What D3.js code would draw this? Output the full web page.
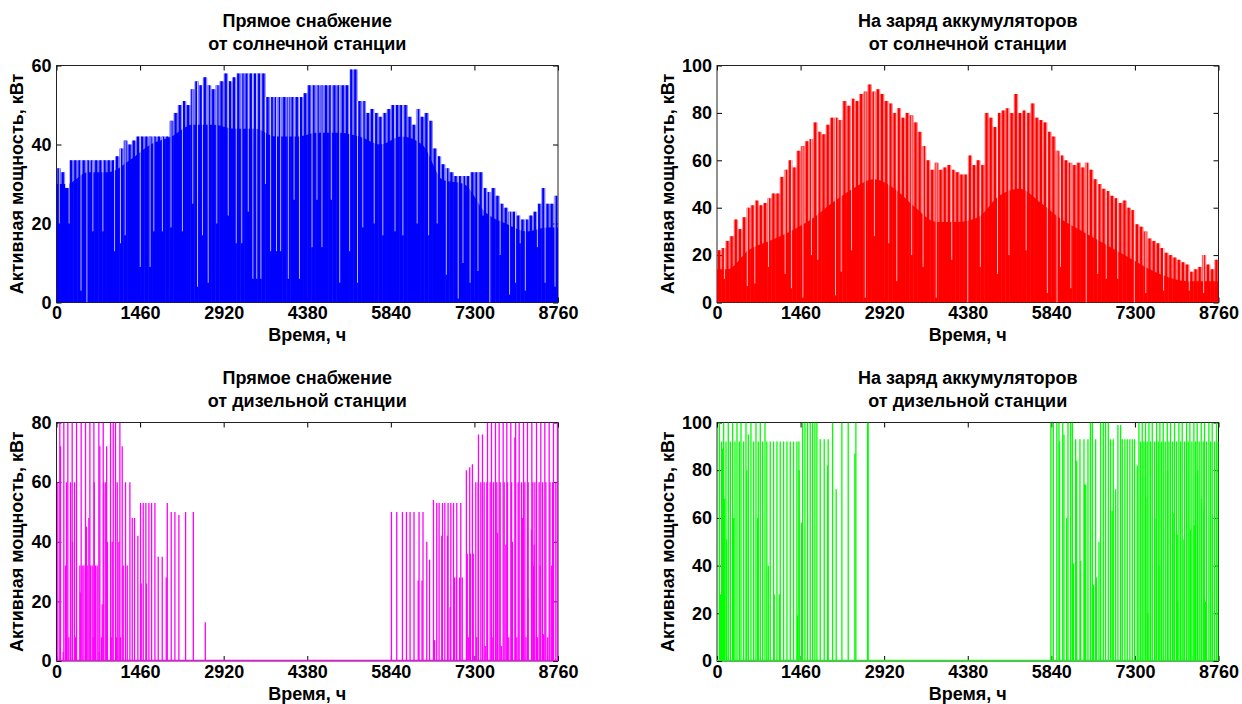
<!DOCTYPE html>
<html>
<head>
<meta charset="utf-8">
<script src="https://d3js.org/d3.v7.min.js"></script>
<style>
  body { margin: 0; background: #fff; }
  svg text { font-family: "Liberation Sans", Arial, sans-serif; font-weight: bold; fill: #000; }
</style>
</head>
<body>
<svg id="chart" width="1242" height="704"></svg>
<script>
// Hourly year, axis ticks
var HOURS = 8760;
var xTicks = [0, 1460, 2920, 4380, 5840, 7300, 8760];

// Solar charts are read as an upper envelope per 73 h bin
// and a solid (dark) band per 365 h bin
var binHours = 73;
var baseHours = 365;

// Прямое снабжение от солнечной станции, кВт
var solarDirectTop = [34, 33, 29, 36, 36, 36, 36, 36, 36, 36,
  36, 36, 36, 36, 37, 39, 41, 40, 41, 42,
  42, 42, 42, 42, 42, 42, 42, 46, 48, 50,
  51, 50, 54, 56, 55, 57, 55, 54, 55, 56,
  58, 56, 57, 58, 58, 58, 58, 58, 58, 58,
  52, 52, 52, 52, 52, 52, 52, 52, 52, 53,
  55, 55, 55, 55, 55, 55, 55, 55, 55, 55,
  59, 59, 51, 51, 48, 49, 48, 47, 48, 49,
  50, 50, 50, 50, 47, 45, 49, 47, 48, 46,
  39, 37, 35, 34, 33, 32, 32, 32, 32, 33,
  33, 33, 29, 28, 29, 27, 25, 24, 23, 23,
  22, 21, 21, 22, 23, 25, 29, 25, 25, 27];
var solarDirectBase = [30, 33, 33, 36, 40, 42, 45, 45, 44, 44, 42, 42,
  43, 43, 42, 40, 42, 40, 31, 30, 23, 20, 18, 19];
var solarDirectDipHours = [50, 220, 428, 531, 635, 810, 1014, 1118, 1200, 1463, 1635, 1700, 1850,
  2000, 2200, 2380, 2463, 2550, 2650, 2800, 3000, 3140, 3236, 3350, 3430, 3498, 3570, 3650,
  3740, 3843, 3915, 4050, 4150, 4244, 4464, 4550, 4637, 4800, 4947, 5120, 5258, 5350, 5550,
  5700, 5913, 6050, 6300, 6500, 6650, 6810, 7017, 7100, 7224, 7362, 7450, 7569, 7750, 7914,
  8018, 8100, 8190, 8400, 8535, 8708];
var solarDirectDipValues = [20, 20, 3, 0, 18, 18, 13, 15, 17, 9, 9, 18, 18,
  19, 18, 25, 4, 17, 5, 20, 22, 15, 15, 23, 6, 6, 6, 30,
  13, 13, 13, 6, 26, 6, 14, 26, 14, 26, 5, 13, 5, 19, 20,
  17, 18, 17, 20, 17, 20, 7, 1, 10, 5, 8, 22, 0, 12, 2,
  5, 15, 3, 14, 5, 4];

// На заряд аккумуляторов от солнечной станции, кВт
var solarChargeTop = [22, 23, 26, 28, 35, 31, 36, 40, 41, 43,
  41, 42, 44, 46, 46, 53, 56, 60, 57, 64,
  66, 68, 69, 76, 72, 71, 75, 78, 78, 77,
  85, 83, 86, 85, 88, 89, 92, 89, 90, 88,
  85, 84, 80, 82, 78, 80, 79, 76, 72, 66,
  60, 56, 59, 56, 57, 58, 56, 55, 54, 54,
  62, 58, 60, 58, 80, 78, 74, 80, 81, 82,
  80, 88, 80, 81, 80, 84, 78, 77, 76, 72,
  70, 64, 62, 60, 59, 58, 59, 57, 59, 56,
  52, 50, 48, 47, 45, 44, 42, 43, 40, 39,
  33, 32, 30, 27, 26, 25, 23, 21, 20, 19,
  18, 17, 16, 13, 14, 15, 20, 16, 14, 18];
var solarChargeBase = [14, 22, 26, 30, 35, 42, 48, 52, 48, 40, 34, 34,
  36, 45, 48, 42, 35, 30, 25, 20, 15, 11, 9, 9];
var solarChargeDipHours = [130, 530, 660, 900, 1190, 1300, 1500, 1650, 1760, 2070, 2170, 2350,
  2590, 2750, 3000, 3140, 3400, 3600, 3830, 4100, 4380, 4600, 4900, 5100, 5400, 5770, 5940,
  6000, 6180, 6450, 6650, 6800, 7000, 7290, 7490, 7800, 8250, 8500];
var solarChargeDipValues = [10, 7, 8, 15, 12, 6, 2, 20, 18, 3, 13, 22,
  2, 28, 25, 9, 20, 15, 2, 18, 0, 15, 12, 20, 22, 4, 0,
  15, 6, 0, 12, 10, 10, 0, 4, 5, 5, 4];

// Прямое снабжение от дизельной станции, кВт (individual daily spikes)
var dieselDirectHours = [23, 58, 70, 117, 128, 157, 175, 198, 215, 245, 274, 280, 315, 332, 350,
  408, 415, 431, 449, 478, 507, 524, 536, 565, 583, 594, 624, 641, 653, 660, 682, 711, 740,
  745, 757, 787, 799, 816, 827, 860, 876, 890, 944, 956, 973, 991, 1031, 1049, 1061, 1090,
  1107, 1119, 1148, 1166, 1206, 1236, 1282, 1323, 1363, 1421, 1468, 1480, 1515, 1561, 1573,
  1614, 1661, 1719, 1777, 1847, 1917, 1935, 2004, 2068, 2138, 2255, 2390, 2599,
  5850, 5943, 6043, 6113, 6176, 6245, 6318, 6333, 6385, 6402, 6468, 6517, 6585, 6605, 6642,
  6683, 6730, 6742, 6783, 6830, 6840, 6877, 6888, 6935, 6950, 6983, 6992, 7041, 7062, 7088,
  7160, 7175, 7200, 7218, 7230, 7265, 7280, 7324, 7340, 7365, 7371, 7412, 7441, 7470, 7490,
  7517, 7529, 7575, 7598, 7610, 7633, 7668, 7691, 7703, 7732, 7750, 7770, 7802, 7820, 7849,
  7866, 7878, 7900, 7936, 7950, 7965, 8006, 8020, 8040, 8064, 8082, 8123, 8140, 8158, 8181,
  8200, 8227, 8235, 8239, 8297, 8303, 8320, 8332, 8344, 8356, 8385, 8400, 8431, 8449, 8460,
  8490, 8507, 8530, 8548, 8580, 8606, 8620, 8650, 8664, 8670, 8681, 8722, 8751];
var dieselDirectValues = [60, 80, 72, 3, 80, 32, 60, 80, 8, 60, 80, 40, 60, 8, 80,
  32, 23, 80, 32, 32, 80, 45, 32, 48, 80, 32, 32, 8, 80, 60, 32, 32, 80,
  3, 72, 8, 19, 80, 60, 60, 72, 40, 80, 8, 40, 80, 80, 8, 60, 40,
  80, 8, 72, 32, 60, 32, 60, 48, 48, 42, 53, 26, 53, 53, 26,
  53, 53, 53, 35, 35, 28, 53, 50, 50, 49, 50, 50, 13,
  50, 50, 50, 50, 50, 50, 27, 50, 27, 50, 40, 34, 54, 7, 53,
  53, 42, 53, 53, 42, 53, 18, 53, 53, 28, 28, 53, 28, 53, 28,
  64, 36, 8, 65, 36, 66, 36, 60, 8, 60, 76, 60, 76, 60, 5,
  60, 80, 60, 80, 8, 60, 80, 60, 43, 80, 60, 5, 80, 60, 39,
  80, 60, 8, 80, 60, 40, 75, 80, 8, 60, 80, 60, 48, 80, 60,
  8, 80, 21, 60, 44, 80, 60, 32, 39, 60, 80, 8, 60, 32, 80,
  60, 9, 80, 60, 8, 80, 60, 32, 60, 8, 80, 60, 80];

// На заряд аккумуляторов от дизельной станции, кВт
var dieselChargeHours = [41, 64, 81, 99, 116, 134, 157, 169, 197, 233, 273, 291, 314, 349, 390,
  419, 465, 506, 520, 547, 593, 640, 681, 710, 721, 756, 797, 838, 870, 896, 930, 989, 1000,
  1047, 1088, 1105, 1164, 1222, 1280, 1338, 1396, 1405, 1431, 1436, 1478, 1495, 1536, 1582,
  1628, 1670, 1710, 1745, 1803, 1873, 1931, 1942, 2019, 2082, 2181, 2292, 2408, 2426, 2630, 2640,
  5832, 5875, 5936, 5973, 5984, 6039, 6061, 6108, 6131, 6178, 6207, 6226, 6265, 6283, 6340,
  6352, 6410, 6421, 6440, 6480, 6523, 6556, 6578, 6614, 6630, 6672, 6701, 6748, 6788, 6835,
  6875, 6903, 6922, 6963, 7003, 7050, 7079, 7125, 7166, 7212, 7254, 7294, 7341, 7370, 7399,
  7428, 7457, 7486, 7490, 7515, 7527, 7545, 7574, 7603, 7644, 7650, 7678, 7708, 7719, 7736,
  7766, 7795, 7830, 7865, 7870, 7894, 7923, 7958, 7981, 7993, 8028, 8039, 8045, 8068, 8098,
  8126, 8155, 8167, 8202, 8231, 8260, 8271, 8295, 8330, 8336, 8359, 8388, 8395, 8423, 8458,
  8462, 8493, 8504, 8516, 8534, 8551, 8592, 8621, 8650, 8655, 8691, 8726, 8752];
var dieselChargeValues = [100, 28, 92, 89, 100, 68, 92, 51, 100, 92, 100, 60, 92, 100, 92,
  100, 92, 100, 80, 95, 100, 92, 100, 60, 92, 100, 92, 100, 92, 40, 92, 92, 28,
  92, 28, 92, 92, 92, 92, 92, 92, 19, 92, 80, 58, 100, 100, 100,
  100, 100, 100, 100, 93, 93, 82, 93, 100, 72, 100, 100, 87, 100, 100, 100,
  100, 100, 100, 100, 92, 100, 95, 60, 100, 100, 100, 41, 93, 84, 93,
  42, 93, 74, 74, 93, 100, 100, 32, 93, 35, 50, 100, 100, 100, 100,
  93, 63, 93, 72, 99, 99, 93, 93, 93, 93, 93, 93, 82, 100, 92,
  100, 92, 100, 68, 92, 20, 100, 92, 100, 92, 60, 100, 92, 40, 100,
  92, 100, 92, 100, 80, 92, 100, 92, 62, 100, 92, 53, 25, 100, 92,
  100, 51, 92, 100, 92, 100, 55, 92, 100, 57, 92, 100, 80, 92, 100,
  68, 92, 63, 100, 25, 92, 100, 92, 100, 61, 92, 100, 92];

var plotW = 501.5;
var fontSize = 18;
var svg = d3.select("#chart");

var panels = [
  {id: 1, x0: 56.5, y0: 65.5, h: 237, yMax: 60, yTicks: [0, 20, 40, 60], labelX: -39.5,
    title: ["Прямое снабжение", "от солнечной станции"], color: "#0000ff", kind: "solar",
    top: solarDirectTop, base: solarDirectBase, dipH: solarDirectDipHours, dipV: solarDirectDipValues},
  {id: 2, x0: 717, y0: 65.5, h: 237, yMax: 100, yTicks: [0, 20, 40, 60, 80, 100], labelX: -49,
    title: ["На заряд аккумуляторов", "от солнечной станции"], color: "#ff0000", kind: "solar",
    top: solarChargeTop, base: solarChargeBase, dipH: solarChargeDipHours, dipV: solarChargeDipValues},
  {id: 3, x0: 56.5, y0: 422.5, h: 238.5, yMax: 80, yTicks: [0, 20, 40, 60, 80], labelX: -39.5,
    title: ["Прямое снабжение", "от дизельной станции"], color: "#ff00ff", kind: "diesel",
    hours: dieselDirectHours, values: dieselDirectValues},
  {id: 4, x0: 717, y0: 422.5, h: 238.5, yMax: 100, yTicks: [0, 20, 40, 60, 80, 100], labelX: -49,
    title: ["На заряд аккумуляторов", "от дизельной станции"], color: "#00ff00", kind: "diesel",
    hours: dieselChargeHours, values: dieselChargeValues}
];

panels.forEach(drawPanel);

function styleAxis(sel) {
  sel.select(".domain").remove();
  sel.attr("font-size", fontSize).attr("font-family", null);
  sel.selectAll(".tick line").attr("stroke", "#000");
}

function drawPanel(p) {
  var g = svg.append("g").attr("transform", "translate(" + p.x0 + "," + p.y0 + ")");
  var x = d3.scaleLinear().domain([0, HOURS]).range([0, plotW]);
  var y = d3.scaleLinear().domain([0, p.yMax]).range([p.h, 0]);

  // Box ticks, all pointing inward
  g.append("g").attr("transform", "translate(0," + p.h + ")")
    .call(d3.axisBottom(x).tickValues(xTicks).tickSizeInner(-5).tickSizeOuter(0)
      .tickPadding(4).tickFormat(d3.format("d")))
    .call(styleAxis);
  g.append("g")
    .call(d3.axisTop(x).tickValues(xTicks).tickSizeInner(-5).tickSizeOuter(0).tickFormat(""))
    .call(styleAxis);
  g.append("g")
    .call(d3.axisLeft(y).tickValues(p.yTicks).tickSizeInner(-5).tickSizeOuter(0).tickPadding(5))
    .call(styleAxis);
  g.append("g").attr("transform", "translate(" + plotW + ",0)")
    .call(d3.axisRight(y).tickValues(p.yTicks).tickSizeInner(-5).tickSizeOuter(0).tickFormat(""))
    .call(styleAxis);

  g.append("rect").attr("width", plotW).attr("height", p.h)
    .attr("fill", "none").attr("stroke", "#222").attr("stroke-width", 1);

  g.append("clipPath").attr("id", "clip" + p.id)
    .append("rect").attr("width", plotW).attr("height", p.h);
  var layer = g.append("g").attr("clip-path", "url(#clip" + p.id + ")");

  if (p.kind === "solar") drawSolar(g, layer, x, y, p);
  else drawDiesel(layer, x, y, p);

  // Titles and labels
  g.append("text").attr("x", plotW / 2).attr("y", -38.5)
    .attr("text-anchor", "middle").attr("font-size", fontSize).text(p.title[0]);
  g.append("text").attr("x", plotW / 2).attr("y", -16)
    .attr("text-anchor", "middle").attr("font-size", fontSize).text(p.title[1]);
  g.append("text").attr("x", plotW / 2).attr("y", p.h + 38.5)
    .attr("text-anchor", "middle").attr("font-size", fontSize).text("Время, ч");
  g.append("text")
    .attr("transform", "translate(" + p.labelX + "," + (p.h / 2) + ") rotate(-90)")
    .attr("text-anchor", "middle").attr("dy", "0.35em").attr("font-size", fontSize)
    .text("Активная мощность, кВт");
}

function drawSolar(g, layer, x, y, p) {
  var bins = p.top.map(function(v, i) {
    return {h0: i * binHours, h1: (i + 1) * binHours, v: v};
  });

  // lighter area up to the daily peaks
  layer.selectAll("rect.fringe").data(bins).enter().append("rect")
    .attr("class", "fringe")
    .attr("x", function(d) { return x(d.h0); })
    .attr("width", function(d) { return x(d.h1) - x(d.h0) + 0.3; })
    .attr("y", function(d) { return y(d.v); })
    .attr("height", function(d) { return y(0) - y(d.v); })
    .attr("fill", p.color).attr("fill-opacity", 0.47);

  // solid band, kept under the envelope
  var envId = "env" + p.id;
  g.append("clipPath").attr("id", envId).selectAll("rect").data(bins).enter().append("rect")
    .attr("x", function(d) { return x(d.h0); })
    .attr("width", function(d) { return x(d.h1) - x(d.h0) + 0.3; })
    .attr("y", function(d) { return y(d.v); })
    .attr("height", function(d) { return y(0) - y(d.v); });

  var basePts = p.base.map(function(v, j) { return [(j + 0.5) * baseHours, v]; });
  basePts.unshift([0, p.base[0]]);
  basePts.push([HOURS, p.base[p.base.length - 1]]);
  var band = d3.area()
    .x(function(d) { return x(d[0]); })
    .y0(y(0))
    .y1(function(d) { return y(d[1]); })
    .curve(d3.curveMonotoneX);
  layer.append("g").attr("clip-path", "url(#" + envId + ")")
    .append("path").datum(basePts).attr("d", band).attr("fill", p.color);

  // peak strokes
  layer.selectAll("line.peak").data(bins).enter().append("line")
    .attr("class", "peak")
    .attr("x1", function(d) { return x((d.h0 + d.h1) / 2); })
    .attr("x2", function(d) { return x((d.h0 + d.h1) / 2); })
    .attr("y1", y(0))
    .attr("y2", function(d) { return y(d.v); })
    .attr("stroke", p.color).attr("stroke-width", 2.2);

  // cloudy days: gaps down to a low peak
  var dips = d3.zip(p.dipH, p.dipV);
  layer.selectAll("line.dip").data(dips).enter().append("line")
    .attr("class", "dip")
    .attr("x1", function(d) { return x(d[0]); })
    .attr("x2", function(d) { return x(d[0]); })
    .attr("y1", function(d) { return y(d[1]); })
    .attr("y2", function(d) { return y(p.top[Math.min(p.top.length - 1, Math.floor(d[0] / binHours))]); })
    .attr("stroke", "#fff").attr("stroke-opacity", 0.7).attr("stroke-width", 1);
}

function drawDiesel(layer, x, y, p) {
  var spikes = d3.zip(p.hours, p.values);

  layer.append("line")
    .attr("x1", 0).attr("x2", plotW)
    .attr("y1", y(0) - 0.5).attr("y2", y(0) - 0.5)
    .attr("stroke", p.color).attr("stroke-width", 1.5);

  layer.selectAll("line.spike").data(spikes).enter().append("line")
    .attr("class", "spike")
    .attr("x1", function(d) { return x(d[0]); })
    .attr("x2", function(d) { return x(d[0]); })
    .attr("y1", y(0))
    .attr("y2", function(d) { return y(d[1]); })
    .attr("stroke", p.color).attr("stroke-width", 1.3);
}
</script>
</body>
</html>
